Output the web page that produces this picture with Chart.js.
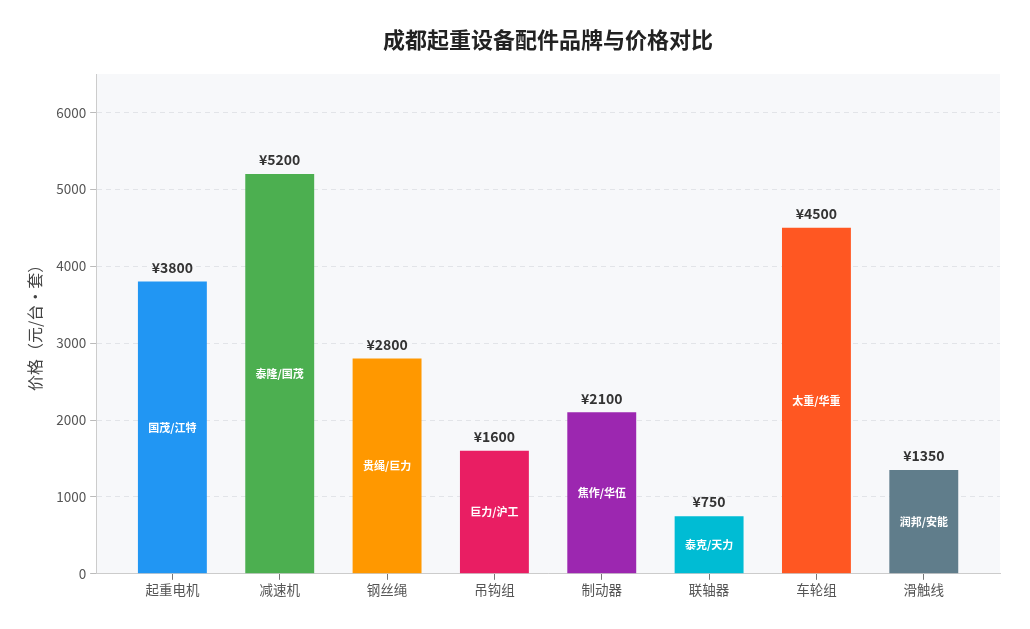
<!DOCTYPE html>
<html>
<head>
<meta charset="utf-8">
<script src="https://cdn.jsdelivr.net/npm/chart.js@4"></script>
<style>
  html, body { margin: 0; padding: 0; background: #fff; }
  #wrap { width: 1030px; height: 629px; }
</style>
</head>
<body>
<div id="wrap"><canvas id="c"></canvas></div>
<script>
const chartTitle = '成都起重设备配件品牌与价格对比';
const categories = ['起重电机', '减速机', '钢丝绳', '吊钩组', '制动器', '联轴器', '车轮组', '滑触线'];
const prices = [3800, 5200, 2800, 1600, 2100, 750, 4500, 1350];
const brands = ['国茂/江特', '泰隆/国茂', '贵绳/巨力', '巨力/沪工', '焦作/华伍', '泰克/天力', '太重/华重', '润邦/安能'];
const barColors = ['#2196F3', '#4CAF50', '#FF9800', '#E91E63', '#9C27B0', '#00BCD4', '#FF5722', '#607D8B'];
const yTicks = [0, 1000, 2000, 3000, 4000, 5000, 6000];

const FONT = '"Noto Sans CJK SC", "Noto Sans", sans-serif';

// plot background, title over the plot area, labels on bars
const barLabels = {
  id: 'barLabels',
  beforeDraw(chart) {
    const a = chart.chartArea;
    const ctx = chart.ctx;
    ctx.save();
    ctx.fillStyle = '#f7f8fa';
    ctx.fillRect(a.left, a.top, a.right - a.left, a.bottom - a.top);
    ctx.fillStyle = '#222';
    ctx.font = 'bold 22px ' + FONT;
    ctx.textAlign = 'center';
    ctx.textBaseline = 'middle';
    ctx.fillText(chartTitle, (a.left + a.right) / 2, 40);
    ctx.restore();
  },
  afterDatasetsDraw(chart) {
    const ctx = chart.ctx;
    const meta = chart.getDatasetMeta(0);
    ctx.save();
    ctx.textAlign = 'center';
    meta.data.forEach((bar, i) => {
      ctx.fillStyle = '#333';
      ctx.font = 'bold 14px ' + FONT;
      ctx.textBaseline = 'bottom';
      ctx.fillText('¥' + prices[i], bar.x, bar.y - 7);
      ctx.fillStyle = '#fff';
      ctx.font = 'bold 11px ' + FONT;
      ctx.textBaseline = 'middle';
      ctx.fillText(brands[i], bar.x, (bar.y + bar.base) / 2);
    });
    ctx.restore();
  }
};

new Chart(document.getElementById('c'), {
  type: 'bar',
  data: {
    datasets: [{
      data: prices.map((v, i) => ({ x: i, y: v })),
      backgroundColor: barColors,
      barPercentage: 0.642,
      categoryPercentage: 1.0
    }]
  },
  options: {
    responsive: true,
    maintainAspectRatio: false,
    animation: false,
    layout: { padding: { top: 74, right: 30, left: 21, bottom: 29 } },
    plugins: {
      legend: { display: false },
      tooltip: { enabled: false },
      title: { display: false }
    },
    scales: {
      x: {
        type: 'linear',
        offset: false,
        min: -0.71,
        max: categories.length - 1 + 0.71,
        afterBuildTicks: axis => { axis.ticks = categories.map((c, i) => ({ value: i })); },
        grid: { offset: false, drawOnChartArea: false, drawTicks: true, tickLength: 6, tickColor: '#777' },
        border: { color: '#ccc' },
        ticks: { color: '#555', font: { family: FONT, size: 13.5 }, padding: 2, callback: v => categories[v] }
      },
      y: {
        min: 0,
        max: 6500,
        afterBuildTicks: axis => { axis.ticks = yTicks.map(v => ({ value: v })); },
        ticks: { color: '#555', font: { family: FONT, size: 13.5 }, padding: 4, callback: v => String(v) },
        grid: { color: '#e2e4e8', tickLength: 6, tickColor: '#bbb' },
        border: { color: '#ccc', dash: [5, 4] },
        title: {
          display: true,
          text: '价格（元/台·套）',
          color: '#444',
          font: { family: FONT, size: 16 },
          padding: { bottom: 8 }
        }
      }
    }
  },
  plugins: [barLabels]
});
</script>
</body>
</html>
